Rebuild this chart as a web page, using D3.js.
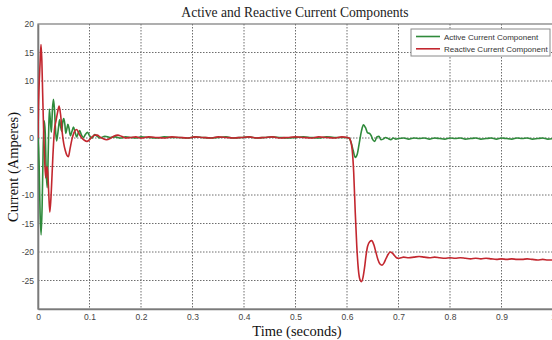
<!DOCTYPE html>
<html>
<head>
<meta charset="utf-8">
<script src="https://cdn.jsdelivr.net/npm/d3@7"></script>
<style>
  html, body { margin: 0; padding: 0; background: #fff; overflow: hidden; }
  svg { display: block; }
</style>
</head>
<body>
<svg id="chart" width="552" height="340"></svg>
<script>
// ---- Data ----
const chartTitle = "Active and Reactive Current Components";
const xLabel = "Time (seconds)";
const yLabel = "Current (Amperes)";
const xTicks = [0, 0.1, 0.2, 0.3, 0.4, 0.5, 0.6, 0.7, 0.8, 0.9, 1];
const yTicks = [20, 15, 10, 5, 0, -5, -10, -15, -20, -25, -30];
const yTickLabels = ["20", "15", "10", "5", "0", "-5", "-10", "-15", "-20", "-25", ""];
const seriesNames = ["Active Current Component", "Reactive Current Component"];

// Active current component (green): time (s) and current (A)
const activeTime = [
  0, 0.002, 0.004, 0.006, 0.008, 0.010, 0.012, 0.014, 0.016, 0.018,
  0.020, 0.022, 0.024, 0.026, 0.028, 0.030, 0.032, 0.034, 0.036, 0.038,
  0.040, 0.042, 0.044, 0.046, 0.048, 0.050, 0.052, 0.054, 0.056, 0.058,
  0.060, 0.063, 0.066, 0.069, 0.072, 0.075, 0.078, 0.081, 0.084, 0.088,
  0.092, 0.096, 0.100, 0.105, 0.110, 0.115, 0.120, 0.130, 0.140, 0.150,
  0.160, 0.170, 0.180, 0.190, 0.200, 0.215, 0.230, 0.245, 0.260, 0.275,
  0.290, 0.305, 0.320, 0.335, 0.350, 0.365, 0.380, 0.395, 0.410, 0.425,
  0.440, 0.455, 0.470, 0.485, 0.500, 0.515, 0.530, 0.545, 0.560, 0.575,
  0.590, 0.600, 0.604, 0.608, 0.612, 0.616, 0.620, 0.624, 0.628, 0.632,
  0.636, 0.640, 0.644, 0.647, 0.650, 0.654, 0.658, 0.662, 0.666, 0.670,
  0.675, 0.680, 0.685, 0.690, 0.695, 0.700, 0.710, 0.720, 0.730, 0.740,
  0.750, 0.760, 0.770, 0.780, 0.790, 0.800, 0.810, 0.820, 0.830, 0.840,
  0.850, 0.860, 0.870, 0.880, 0.890, 0.900, 0.910, 0.920, 0.930, 0.940,
  0.950, 0.960, 0.970, 0.980, 0.990, 1.000
];
const activeCurrent = [
  0, -4, -13, -17, -12, -2, 3, 1, -6, -8.7,
  -2, 5.1, 3, 1, 5, 6.8, 5, 1.5, -0.5, 0.5,
  2, 3.2, 2, 1.2, 2.8, 3.4, 2.5, 0.8, 1.6, 2.4,
  1.8, 0.4, 1.2, 1.9, 1.0, 0.2, 0.8, 1.3, 0.6, 0.1,
  0.6, 1.0, 0.4, 0.0, 0.6, 0.3, 0.0, 0.3, 0.1, 0.2,
  0.0, 0.2, 0.1, 0.0, 0.2, 0.1, 0.0, 0.2, 0.1, 0.1,
  0.0, 0.2, 0.1, 0.0, 0.1, 0.2, 0.0, 0.1, 0.2, 0.0,
  0.1, 0.2, 0.1, 0.0, 0.1, 0.2, 0.1, 0.0, 0.2, 0.1,
  0.1, 0.1, 0.0, -0.8, -2.2, -3.4, -2.8, -0.8, 1.2, 2.3,
  1.8, 0.9, 0.8, 0.4, -0.3, -0.6, 0.2, 0.3, -0.3, -0.2,
  0.1, -0.1, -0.3, 0.0, -0.2, -0.1, 0.0, -0.2, 0.0, -0.1,
  0.0, -0.2, 0.0, -0.1, -0.2, 0.0, -0.1, 0.0, -0.2, -0.1,
  0.0, -0.2, -0.1, 0.0, -0.2, 0.0, -0.1, -0.2, 0.0, -0.1,
  0.0, -0.2, -0.1, 0.0, -0.2, -0.1
];

// Reactive current component (red): time (s) and current (A)
const reactiveTime = [
  0, 0.0008, 0.002, 0.004, 0.0058, 0.0075, 0.009, 0.011, 0.013, 0.015,
  0.017, 0.019, 0.021, 0.023, 0.026, 0.029, 0.032, 0.035, 0.038, 0.041,
  0.044, 0.047, 0.050, 0.053, 0.056, 0.059, 0.062, 0.066, 0.070, 0.075,
  0.080, 0.085, 0.090, 0.095, 0.100, 0.105, 0.110, 0.115, 0.120, 0.126,
  0.133, 0.140, 0.147, 0.155, 0.162, 0.170, 0.180, 0.190, 0.200, 0.215,
  0.230, 0.245, 0.260, 0.275, 0.290, 0.305, 0.320, 0.335, 0.350, 0.365,
  0.380, 0.395, 0.410, 0.425, 0.440, 0.455, 0.470, 0.485, 0.500, 0.515,
  0.530, 0.545, 0.560, 0.575, 0.590, 0.600, 0.604, 0.607, 0.610, 0.613,
  0.616, 0.619, 0.622, 0.625, 0.628, 0.631, 0.634, 0.637, 0.640, 0.644,
  0.648, 0.652, 0.656, 0.660, 0.664, 0.668, 0.672, 0.676, 0.680, 0.684,
  0.688, 0.692, 0.696, 0.700, 0.705, 0.710, 0.720, 0.730, 0.740, 0.750,
  0.760, 0.770, 0.780, 0.790, 0.800, 0.810, 0.820, 0.830, 0.840, 0.850,
  0.860, 0.870, 0.880, 0.890, 0.900, 0.910, 0.920, 0.930, 0.940, 0.950,
  0.960, 0.970, 0.980, 0.990, 1.000
];
const reactiveCurrent = [
  0, 5, 8.8, 13, 16.4, 13.5, 8, 1, -4, -7,
  -5, -6, -10, -13, -9, -3, 1.5, 3, 4.5, 5.6,
  4, 1, -1, -2.2, -3.0, -3.3, -2, -0.2, 1.0, 1.5,
  0.7, 0.0, -0.4, -0.6, -0.3, 0.2, 0.5, 0.5, 0.2, -0.1,
  -0.3, -0.1, 0.3, 0.5, 0.3, 0.0, 0.1, 0.2, 0.0, 0.2,
  0.1, 0.0, 0.2, 0.1, 0.0, 0.2, 0.1, 0.0, 0.2, 0.1,
  0.0, 0.1, 0.2, 0.0, 0.1, 0.2, 0.0, 0.1, 0.2, 0.1,
  0.0, 0.2, 0.1, 0.0, 0.2, 0.1, 0.0, -0.5, -2, -6,
  -13, -19, -23, -24.8, -25.2, -24.5, -22.8, -20.6, -19.0, -18.2,
  -18.0, -18.7, -20.0, -21.3, -22.1, -22.3, -21.9, -21.1, -20.4, -20.0,
  -20.2, -20.6, -21.0, -21.1, -21.0, -20.9, -21.0, -20.9, -20.8, -20.9,
  -21.0, -20.9, -21.0, -21.1, -21.0, -21.1, -21.0, -21.1, -21.2, -21.1,
  -21.2, -21.1, -21.2, -21.3, -21.2, -21.3, -21.2, -21.3, -21.3, -21.2,
  -21.3, -21.4, -21.3, -21.4, -21.4
];

// ---- Drawing ----
(function draw() {
  const svg = d3.select("#chart");
  const W = 552, H = 340;
  const pL = 38, pR = 553, pT = 24, pB = 309;

  const x = d3.scaleLinear().domain([0, 1]).range([pL, pR]);
  const y = d3.scaleLinear().domain([-30, 20]).range([pB, pT]);

  svg.append("rect").attr("width", W).attr("height", H).attr("fill", "#fff");

  svg.append("defs").append("clipPath").attr("id", "plotClip")
    .append("rect").attr("x", pL).attr("y", pT)
    .attr("width", pR - pL).attr("height", pB - pT);

  // Grid lines (dotted)
  const grid = svg.append("g").attr("class", "grid");
  grid.selectAll("line.vx").data(xTicks.filter(d => d > 0 && d < 1)).enter()
    .append("line").attr("class", "vx")
    .attr("x1", d => x(d)).attr("x2", d => x(d))
    .attr("y1", pT).attr("y2", pB)
    .attr("stroke", "#6e6e6e").attr("stroke-width", 1)
    .attr("stroke-dasharray", "1.5,1.5");
  grid.selectAll("line.hy").data(yTicks.filter(d => d > -30 && d < 20)).enter()
    .append("line").attr("class", "hy")
    .attr("x1", pL).attr("x2", pR)
    .attr("y1", d => y(d)).attr("y2", d => y(d))
    .attr("stroke", "#6e6e6e").attr("stroke-width", 1)
    .attr("stroke-dasharray", "1.5,1.5");

  // Plot frame
  svg.append("rect")
    .attr("x", pL).attr("y", pT)
    .attr("width", pR - pL).attr("height", pB - pT)
    .attr("fill", "none").attr("stroke", "#7a7a7a").attr("stroke-width", 1.2);

  // Axes
  const xAxis = d3.axisBottom(x).tickValues(xTicks)
    .tickFormat(d => d === 0 ? "0" : (d === 1 ? "1" : d3.format(".1f")(d)))
    .tickSize(0).tickPadding(5);
  const gx = svg.append("g").attr("transform", `translate(0,${pB})`).call(xAxis);
  gx.select(".domain").attr("stroke", "#7a7a7a").attr("stroke-width", 1.6);
  gx.selectAll("text").attr("font-family", "Arial, 'Liberation Sans', sans-serif")
    .attr("font-size", 8.5).attr("fill", "#444");

  const yAxis = d3.axisLeft(y).tickValues(yTicks)
    .tickFormat((d, i) => yTickLabels[i])
    .tickSize(0).tickPadding(4);
  const gy = svg.append("g").attr("transform", `translate(${pL},0)`).call(yAxis);
  gy.select(".domain").attr("stroke", "#7a7a7a").attr("stroke-width", 1.6);
  gy.selectAll("text").attr("font-family", "Arial, 'Liberation Sans', sans-serif")
    .attr("font-size", 8.5).attr("fill", "#444");

  // Series lines
  const activeData = activeTime.map((t, i) => [t, activeCurrent[i]]);
  const reactiveData = reactiveTime.map((t, i) => [t, reactiveCurrent[i]]);
  const line = d3.line().x(d => x(d[0])).y(d => y(d[1])).curve(d3.curveMonotoneX);
  const colors = ["#2f8a3b", "#c3272f"];

  const plot = svg.append("g").attr("clip-path", "url(#plotClip)");
  plot.append("path").datum(activeData)
    .attr("d", line).attr("fill", "none")
    .attr("stroke", colors[0]).attr("stroke-width", 1.6).attr("stroke-linejoin", "round");
  plot.append("path").datum(reactiveData)
    .attr("d", line).attr("fill", "none")
    .attr("stroke", colors[1]).attr("stroke-width", 1.6).attr("stroke-linejoin", "round");

  // Title and axis labels
  svg.append("text").attr("x", 295).attr("y", 16.5).attr("text-anchor", "middle")
    .attr("font-family", "'Times New Roman', 'Liberation Serif', serif")
    .attr("font-size", 13.6).attr("fill", "#222").text(chartTitle);
  svg.append("text").attr("x", 297).attr("y", 336).attr("text-anchor", "middle")
    .attr("font-family", "'Times New Roman', 'Liberation Serif', serif")
    .attr("font-size", 14.5).attr("fill", "#111").text(xLabel);
  svg.append("text")
    .attr("transform", "translate(18,167) rotate(-90)")
    .attr("text-anchor", "middle")
    .attr("font-family", "'Times New Roman', 'Liberation Serif', serif")
    .attr("font-size", 14.5).attr("fill", "#111").text(yLabel);

  // Legend
  const lg = svg.append("g").attr("transform", "translate(411,29)");
  lg.append("rect").attr("width", 139).attr("height", 27)
    .attr("fill", "#fff").attr("stroke", "#8a8a8a").attr("stroke-width", 1);
  seriesNames.forEach((name, i) => {
    const yy = 7.5 + i * 12.3;
    lg.append("line").attr("x1", 5).attr("x2", 29).attr("y1", yy).attr("y2", yy)
      .attr("stroke", colors[i]).attr("stroke-width", 1.6);
    lg.append("text").attr("x", 33).attr("y", yy + 3)
      .attr("font-family", "Arial, 'Liberation Sans', sans-serif")
      .attr("font-size", 8).attr("fill", "#333").text(name);
  });
})();
</script>
</body>
</html>
